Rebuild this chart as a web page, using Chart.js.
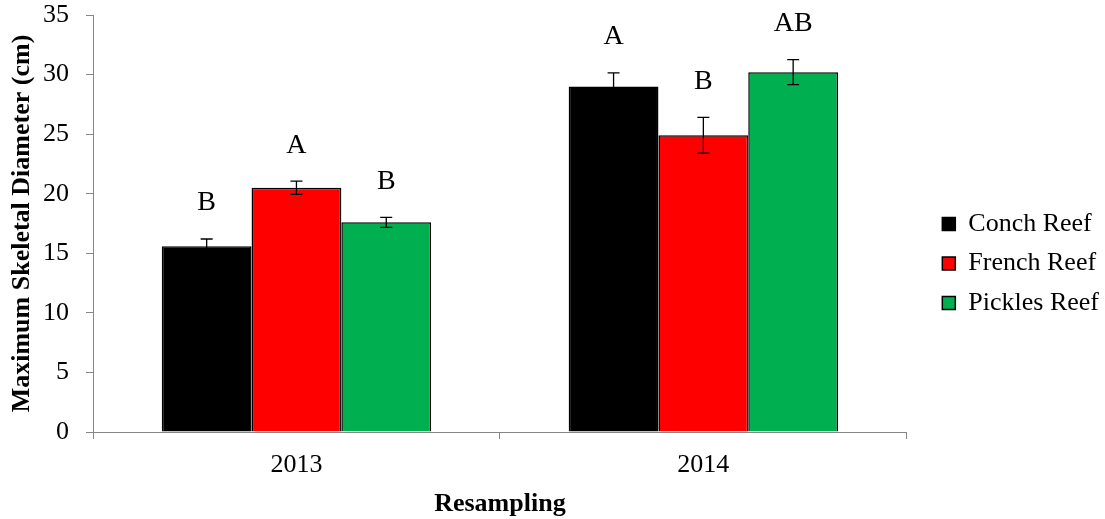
<!DOCTYPE html>
<html>
<head>
<meta charset="utf-8">
<script src="https://cdn.jsdelivr.net/npm/chart.js@4"></script>
<style>
  html, body { margin: 0; padding: 0; background: #fff; }
  #wrap { width: 1105px; height: 519px; }
</style>
</head>
<body>
<div id="wrap"><canvas id="diameter"></canvas></div>
<script>
var years = ["2013", "2014"];
var reefs = ["Conch Reef", "French Reef", "Pickles Reef"];
var reefColors = ["#000000", "#FF0000", "#00B050"];

// mean maximum skeletal diameter (cm) per reef, per year
var conch = [15.6, 29.0];
var french = [20.5, 24.9];
var pickles = [17.6, 30.2];

// standard error for each mean
var conchErr = [0.6, 1.15];
var frenchErr = [0.55, 1.5];
var picklesErr = [0.42, 1.05];

// significance groups shown above each bar
var conchLetters = ["B", "A"];
var frenchLetters = ["A", "B"];
var picklesLetters = ["B", "AB"];

var yTicks = [0, 5, 10, 15, 20, 25, 30, 35];

var serif = '"Liberation Serif", "Times New Roman", serif';
var axisGray = "#868686";

var seriesValues = [conch, french, pickles];
var seriesErr = [conchErr, frenchErr, picklesErr];
var seriesLetters = [conchLetters, frenchLetters, picklesLetters];

//error bars + letters drawn on top of the bars
var errorBars = {
    id: "errorBars",
    afterDatasetsDraw: function (chart) {
        var ctx = chart.ctx;
        var y = chart.scales.y;
        ctx.save();
        chart.data.datasets.forEach(function (ds, i) {
            var meta = chart.getDatasetMeta(i);
            meta.data.forEach(function (bar, j) {
                var v = ds.data[j];
                var e = seriesErr[i][j];
                var top = y.getPixelForValue(v + e);
                var bot = y.getPixelForValue(v - e);
                ctx.strokeStyle = "#000";
                ctx.lineWidth = 1.3;
                ctx.beginPath();
                ctx.moveTo(bar.x, top);
                ctx.lineTo(bar.x, bot);
                ctx.moveTo(bar.x - 6, top);
                ctx.lineTo(bar.x + 6, top);
                ctx.moveTo(bar.x - 6, bot);
                ctx.lineTo(bar.x + 6, bot);
                ctx.stroke();

                ctx.fillStyle = "#000";
                ctx.font = "28px " + serif;
                ctx.textAlign = "center";
                ctx.textBaseline = "middle";
                ctx.fillText(seriesLetters[i][j], bar.x, top - 36);
            });
        });
        ctx.restore();
    }
};

// push the legend a little right, away from the plot
var legendNudge = {
    id: "legendNudge",
    afterLayout: function (chart) {
        var lg = chart.legend;
        if (!lg) return;
        lg.left += 22;
        lg.right += 22;
        lg.top += 4;
        lg.bottom += 4;
    }
};

Chart.defaults.font.family = serif;
Chart.defaults.color = "#000";

var ctx = document.getElementById("diameter").getContext("2d");
var chart = new Chart(ctx, {
    type: "bar",
    data: {
        labels: years,
        datasets: reefs.map(function (name, i) {
            return {
                label: name,
                data: seriesValues[i],
                backgroundColor: reefColors[i],
                borderColor: "#000000",
                borderWidth: 1.5,
                categoryPercentage: 0.662,
                barPercentage: 1.0
            };
        })
    },
    options: {
        responsive: true,
        maintainAspectRatio: false,
        animation: false,
        layout: {
            padding: { top: 0, right: 18, bottom: 0, left: 0 }
        },
        plugins: {
            legend: {
                position: "right",
                labels: {
                    boxWidth: 13,
                    boxHeight: 13,
                    padding: 13.5,
                    color: "#000",
                    font: { size: 26, family: serif }
                }
            },
            tooltip: { enabled: false }
        },
        scales: {
            x: {
                grid: {
                    display: true,
                    drawOnChartArea: false,
                    drawTicks: true,
                    tickLength: 7,
                    color: axisGray
                },
                border: { color: axisGray, width: 1 },
                ticks: {
                    padding: 11,
                    color: "#000",
                    font: { size: 26, family: serif }
                },
                title: {
                    display: true,
                    text: "Resampling",
                    color: "#000",
                    padding: { top: 0, bottom: -1 },
                    font: { size: 26, weight: "bold", family: serif }
                },
                afterFit: function (scale) {
                    scale.height = 87;
                }
            },
            y: {
                min: 0,
                max: 35,
                grid: {
                    display: true,
                    drawOnChartArea: false,
                    drawTicks: true,
                    tickLength: 7,
                    color: axisGray
                },
                border: { color: axisGray, width: 1 },
                afterBuildTicks: function (scale) {
                    scale.ticks = yTicks.map(function (v) { return { value: v }; });
                },
                ticks: {
                    padding: 17,
                    color: "#000",
                    font: { size: 26, family: serif }
                },
                title: {
                    display: true,
                    text: "Maximum Skeletal Diameter (cm)",
                    color: "#000",
                    padding: { top: 7, bottom: 0 },
                    font: { size: 26, weight: "bold", family: serif }
                },
                afterFit: function (scale) {
                    // fixed gutter; tick padding shouldn't push the plot down
                    scale.width = 93;
                    scale.paddingTop = 15;
                    scale.paddingBottom = 0;
                }
            }
        }
    },
    plugins: [errorBars, legendNudge]
});
</script>
</body>
</html>
